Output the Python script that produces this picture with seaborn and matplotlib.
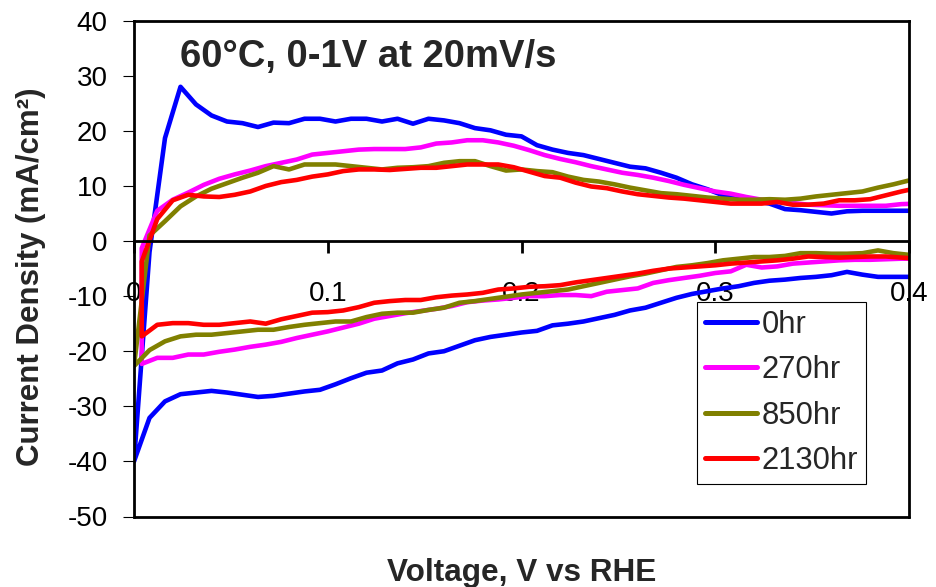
import matplotlib
matplotlib.use("Agg")
import matplotlib.pyplot as plt
from matplotlib.lines import Line2D
import pandas as pd
import seaborn as sns

# Sweep voltages (V vs RHE); two sampling grids offset by half a step
V_GRID_0 = [0.000, 0.008, 0.016, 0.024, 0.032, 0.040, 0.048, 0.056, 0.064, 0.072,
            0.080, 0.088, 0.096, 0.104, 0.112, 0.120, 0.128, 0.136, 0.144, 0.152,
            0.160, 0.168, 0.176, 0.184, 0.192, 0.200, 0.208, 0.216, 0.224, 0.232,
            0.240, 0.248, 0.256, 0.264, 0.272, 0.280, 0.288, 0.296, 0.304, 0.312,
            0.320, 0.328, 0.336, 0.344, 0.352, 0.360, 0.368, 0.376, 0.384, 0.392,
            0.400]
V_GRID_4 = [0.004, 0.012, 0.020, 0.028, 0.036, 0.044, 0.052, 0.060, 0.068, 0.076,
            0.084, 0.092, 0.100, 0.108, 0.116, 0.124, 0.132, 0.140, 0.148, 0.156,
            0.164, 0.172, 0.180, 0.188, 0.196, 0.204, 0.212, 0.220, 0.228, 0.236,
            0.244, 0.252, 0.260, 0.268, 0.276, 0.284, 0.292, 0.300, 0.308, 0.316,
            0.324, 0.332, 0.340, 0.348, 0.356, 0.364, 0.372, 0.380, 0.388, 0.396,
            0.404]

# Current density (mA/cm2), listed in ascending voltage order
I_0HR_ANODIC = [-40.0, -2.0, 18.7, 28.0, 24.8, 22.8, 21.7, 21.4, 20.7, 21.5,
                21.4, 22.2, 22.2, 21.7, 22.2, 22.2, 21.7, 22.2, 21.3, 22.2,
                21.9, 21.4, 20.5, 20.1, 19.3, 19.0, 17.4, 16.6, 16.0, 15.6,
                14.9, 14.2, 13.5, 13.2, 12.4, 11.5, 10.3, 9.4, 8.3, 7.6,
                7.3, 6.8, 5.8, 5.6, 5.3, 5.0, 5.4, 5.5, 5.5, 5.5,
                5.5]
I_0HR_CATHODIC = [-40.0, -32.1, -29.1, -27.8, -27.5, -27.2, -27.5, -27.9, -28.3, -28.1,
                  -27.7, -27.3, -27.0, -26.0, -24.9, -23.9, -23.5, -22.2, -21.5, -20.4,
                  -20.0, -19.0, -18.0, -17.4, -17.0, -16.6, -16.3, -15.3, -15.0, -14.6,
                  -14.0, -13.4, -12.6, -12.1, -11.2, -10.3, -9.6, -9.1, -8.6, -8.2,
                  -7.6, -7.2, -7.0, -6.7, -6.5, -6.2, -5.6, -6.1, -6.5, -6.5,
                  -6.5]

I_270HR_ANODIC = [-1.3, 5.5, 7.5, 8.8, 10.2, 11.3, 12.1, 12.8, 13.6, 14.2,
                  14.8, 15.7, 16.0, 16.3, 16.6, 16.7, 16.7, 16.7, 17.0, 17.7,
                  17.9, 18.3, 18.3, 17.9, 17.3, 16.5, 15.6, 14.9, 14.3, 13.6,
                  13.0, 12.4, 12.0, 11.5, 10.9, 10.2, 9.6, 9.0, 8.6, 8.0,
                  7.5, 7.1, 6.9, 6.6, 6.5, 6.4, 6.4, 6.4, 6.4, 6.7,
                  6.8]
I_270HR_CATHODIC = [-22.3, -21.2, -21.2, -20.6, -20.6, -20.1, -19.7, -19.2, -18.8, -18.3,
                    -17.6, -17.0, -16.4, -15.7, -15.0, -14.1, -13.6, -13.1, -12.7, -12.3,
                    -11.8, -11.1, -10.8, -10.6, -10.3, -10.0, -10.0, -9.8, -9.8, -10.0,
                    -9.2, -8.9, -8.6, -7.6, -7.1, -6.7, -6.3, -5.8, -5.5, -4.3,
                    -4.8, -4.6, -4.1, -3.9, -3.7, -3.5, -3.4, -3.4, -3.3, -3.2,
                    -3.2]

I_850HR_ANODIC = [-22.7, 1.0, 3.6, 6.3, 8.1, 9.5, 10.5, 11.5, 12.4, 13.6,
                  13.0, 13.9, 13.9, 13.9, 13.6, 13.3, 13.0, 13.3, 13.4, 13.6,
                  14.2, 14.5, 14.5, 13.6, 12.8, 13.0, 12.7, 12.5, 11.7, 11.1,
                  10.8, 10.3, 9.7, 9.2, 8.7, 8.5, 8.2, 7.9, 7.7, 7.5,
                  7.5, 7.6, 7.5, 7.7, 8.1, 8.4, 8.7, 9.0, 9.7, 10.3,
                  11.0]
I_850HR_CATHODIC = [-22.7, -19.8, -18.2, -17.3, -17.0, -17.0, -16.7, -16.4, -16.1, -16.1,
                    -15.6, -15.2, -14.9, -14.6, -14.6, -13.8, -13.2, -13.0, -13.0, -12.5,
                    -12.1, -11.2, -10.9, -10.5, -10.1, -9.7, -9.4, -9.1, -8.8, -8.2,
                    -7.6, -7.0, -6.4, -5.9, -5.3, -4.7, -4.4, -4.0, -3.5, -3.2,
                    -2.9, -2.9, -2.7, -2.2, -2.2, -2.3, -2.3, -2.2, -1.7, -2.2,
                    -2.5]

I_2130HR_ANODIC = [-3.7, 4.0, 7.4, 8.4, 8.1, 8.0, 8.4, 9.0, 10.0, 10.7,
                   11.1, 11.7, 12.1, 12.7, 13.0, 13.0, 12.9, 13.1, 13.3, 13.3,
                   13.6, 13.9, 13.9, 13.9, 13.4, 12.6, 11.8, 11.5, 10.6, 9.9,
                   9.6, 9.0, 8.5, 8.2, 7.9, 7.7, 7.4, 7.1, 6.8, 6.8,
                   6.8, 7.1, 6.6, 6.6, 6.8, 7.4, 7.4, 7.6, 8.3, 9.0,
                   9.6]
I_2130HR_CATHODIC = [-17.3, -15.2, -14.9, -14.9, -15.2, -15.2, -14.9, -14.6, -15.0, -14.2,
                     -13.6, -13.0, -12.9, -12.6, -12.0, -11.2, -10.9, -10.7, -10.7, -10.2,
                     -9.9, -9.7, -9.4, -8.8, -8.6, -8.3, -8.2, -8.0, -7.5, -7.1,
                     -6.7, -6.3, -5.9, -5.4, -5.0, -4.8, -4.6, -4.4, -4.1, -3.9,
                     -3.7, -3.5, -3.2, -2.8, -2.9, -3.0, -2.9, -2.8, -2.8, -3.0,
                     -3.2]

SERIES = ["0hr", "270hr", "850hr", "2130hr"]
COLORS = ["#0000FF", "#FF00FF", "#808000", "#FF0000"]
X_TICKS = [0.0, 0.1, 0.2, 0.3, 0.4]
X_TICK_LABELS = ["0", "0.1", "0.2", "0.3", "0.4"]
Y_TICKS = [-50, -40, -30, -20, -10, 0, 10, 20, 30, 40]

sweeps = [
    (V_GRID_0, I_0HR_ANODIC, I_0HR_CATHODIC),
    (V_GRID_4, I_270HR_ANODIC, I_270HR_CATHODIC),
    (V_GRID_0, I_850HR_ANODIC, I_850HR_CATHODIC),
    (V_GRID_4, I_2130HR_ANODIC, I_2130HR_CATHODIC),
]

# One polyline per ageing time: cathodic sweep down to the lower vertex,
# then the anodic sweep back up.
rows = []
for name, (v, ia, ic) in zip(SERIES, sweeps):
    vv = list(reversed(v)) + list(v)
    ii = list(reversed(ic)) + list(ia)
    for step, (x, y) in enumerate(zip(vv, ii)):
        rows.append({"series": name, "step": step, "V": x, "I": y})
df = pd.DataFrame(rows)

sns.set_style("white")
plt.rcParams["font.family"] = ["Liberation Sans", "DejaVu Sans"]

W, H = 936, 587
fig = plt.figure(figsize=(W / 100, H / 100), dpi=100)
ax = fig.add_axes([134 / W, 1 - 516.5 / H, 775 / W, 495.8 / H])

sns.lineplot(data=df, x="V", y="I", hue="series", hue_order=SERIES,
             palette=dict(zip(SERIES, COLORS)), sort=False, estimator=None,
             linewidth=3.3, legend=False, ax=ax)

ax.set_xlim(X_TICKS[0], X_TICKS[-1])
ax.set_ylim(Y_TICKS[0], Y_TICKS[-1])
ax.set_xticks(X_TICKS)
ax.set_xticklabels(X_TICK_LABELS)
ax.set_yticks(Y_TICKS)
ax.set_yticklabels([str(t) for t in Y_TICKS])
ax.set_xlabel("")
ax.set_ylabel("")
ax.set_axisbelow(True)

# x axis drawn through zero current, frame closed by a line at the bottom
for side in ["left", "right", "top", "bottom"]:
    ax.spines[side].set_color("black")
    ax.spines[side].set_linewidth(2.0)
    ax.spines[side].set_visible(True)
ax.spines["bottom"].set_position(("data", 0))
ax.plot([0, 1], [0, 0], transform=ax.transAxes, color="black", lw=2.0,
        clip_on=False, zorder=3)

ax.tick_params(axis="x", direction="out", length=8.5, width=2.0, pad=20,
               labelsize=20, colors="black", bottom=True)
ax.tick_params(axis="y", direction="out", length=8, width=0.8, pad=11,
               labelsize=20, colors="black", left=True)

fig.text(180 / W, 1 - 67 / H, "60°C, 0-1V at 20mV/s", fontsize=27.5,
         fontweight="bold", ha="left", va="baseline")
fig.text(522 / W, 1 - 581 / H, "Voltage, V vs RHE", fontsize=22.7,
         fontweight="bold", ha="center", va="baseline")
fig.text(31 / W, 1 - 276.5 / H, "Current Density (mA/cm²)", fontsize=22.5,
         fontweight="bold", rotation=90, ha="center", va="center")

handles = [Line2D([], [], color=c, lw=3.6) for c in COLORS]
leg = ax.legend(handles, SERIES, loc="upper left",
                bbox_to_anchor=(697 / W, 1 - 302 / H),
                bbox_transform=fig.transFigure, frameon=True, fancybox=False,
                edgecolor="black", framealpha=1, fontsize=22.3,
                handlelength=1.68, handletextpad=0.15, borderpad=0.25,
                labelspacing=0.5, borderaxespad=0)
leg.get_frame().set_linewidth(0.8)

fig.savefig("out.png", dpi=100, facecolor="white")
